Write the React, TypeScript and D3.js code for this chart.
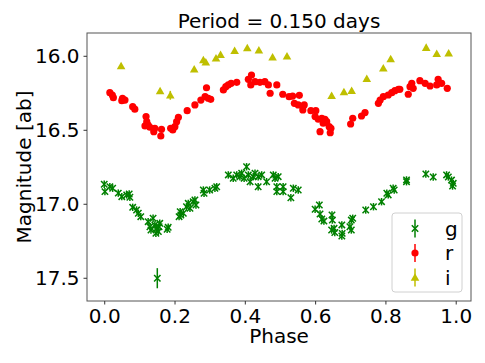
import React, { useEffect, useRef } from "react";
import * as d3 from "d3";

// phase, magnitude, error
const gPhase = [0.0, 0.002, 0.016, 0.024, 0.04, 0.05, 0.064, 0.071, 0.073, 0.081, 0.092, 0.097, 0.104, 0.125, 0.13, 0.133, 0.139, 0.144, 0.149, 0.154, 0.158, 0.147, 0.156, 0.182, 0.179, 0.151, 0.213, 0.216, 0.218, 0.225, 0.234, 0.239, 0.244, 0.253, 0.258, 0.261, 0.282, 0.284, 0.3, 0.315, 0.32, 0.353, 0.367, 0.377, 0.386, 0.391, 0.398, 0.405, 0.41, 0.415, 0.424, 0.429, 0.438, 0.438, 0.448, 0.462, 0.481, 0.486, 0.491, 0.495, 0.491, 0.509, 0.509, 0.538, 0.552, 0.531, 0.6, 0.612, 0.614, 0.619, 0.625, 0.648, 0.649, 0.647, 0.654, 0.656, 0.676, 0.677, 0.676, 0.699, 0.703, 0.707, 0.703, 0.744, 0.766, 0.789, 0.804, 0.808, 0.822, 0.825, 0.86, 0.86, 0.915, 0.936, 0.974, 0.979, 0.988, 0.993, 0.991];
const gMag = [16.868, 16.918, 16.884, 16.895, 16.928, 16.952, 16.94, 16.934, 16.956, 17.024, 17.042, 17.064, 17.087, 17.121, 17.155, 17.177, 17.098, 17.143, 17.166, 17.188, 17.132, 17.199, 17.155, 17.159, 17.172, 17.503, 17.087, 17.053, 17.076, 17.064, 17.02, 16.997, 17.03, 16.986, 16.974, 17.008, 16.907, 16.929, 16.907, 16.895, 16.885, 16.805, 16.828, 16.805, 16.817, 16.794, 16.828, 16.75, 16.805, 16.851, 16.817, 16.794, 16.817, 16.885, 16.805, 16.851, 16.805, 16.828, 16.885, 16.817, 16.918, 16.885, 16.918, 16.895, 16.907, 16.959, 17.037, 17.008, 17.069, 17.103, 17.117, 17.076, 17.11, 17.177, 17.166, 17.194, 17.143, 17.2, 17.218, 17.155, 17.11, 17.098, 17.177, 17.042, 17.02, 16.986, 16.929, 16.94, 16.895, 16.907, 16.851, 16.839, 16.799, 16.819, 16.805, 16.819, 16.84, 16.862, 16.88];
const gErr = gMag.map((m) => (m > 17.4 ? 0.068 : 0.025));

const rPhase = [0.016, 0.023, 0.026, 0.052, 0.059, 0.05, 0.081, 0.087, 0.119, 0.121, 0.125, 0.116, 0.13, 0.144, 0.141, 0.163, 0.161, 0.189, 0.195, 0.201, 0.206, 0.211, 0.236, 0.258, 0.275, 0.287, 0.291, 0.296, 0.303, 0.339, 0.346, 0.353, 0.361, 0.377, 0.41, 0.419, 0.417, 0.429, 0.443, 0.457, 0.467, 0.472, 0.491, 0.508, 0.526, 0.536, 0.541, 0.555, 0.552, 0.565, 0.569, 0.588, 0.602, 0.6, 0.609, 0.619, 0.628, 0.633, 0.623, 0.64, 0.645, 0.614, 0.643, 0.701, 0.707, 0.732, 0.742, 0.78, 0.785, 0.794, 0.808, 0.818, 0.827, 0.837, 0.841, 0.865, 0.87, 0.875, 0.879, 0.898, 0.913, 0.927, 0.946, 0.95, 0.96, 0.976];
const rMag = [16.249, 16.265, 16.283, 16.287, 16.299, 16.303, 16.344, 16.361, 16.411, 16.445, 16.468, 16.474, 16.483, 16.49, 16.513, 16.497, 16.542, 16.49, 16.501, 16.479, 16.445, 16.416, 16.371, 16.332, 16.299, 16.276, 16.216, 16.287, 16.294, 16.231, 16.209, 16.197, 16.186, 16.179, 16.159, 16.13, 16.197, 16.175, 16.179, 16.175, 16.197, 16.253, 16.197, 16.26, 16.276, 16.272, 16.321, 16.267, 16.332, 16.366, 16.332, 16.371, 16.371, 16.411, 16.429, 16.422, 16.429, 16.445, 16.456, 16.479, 16.49, 16.513, 16.52, 16.461, 16.422, 16.407, 16.384, 16.321, 16.299, 16.276, 16.265, 16.249, 16.236, 16.226, 16.226, 16.26, 16.209, 16.186, 16.22, 16.168, 16.186, 16.204, 16.197, 16.159, 16.186, 16.22];
const rErr = rMag.map(() => 0.012);

const iPhase = [0.048, 0.159, 0.188, 0.256, 0.282, 0.289, 0.318, 0.331, 0.371, 0.407, 0.44, 0.479, 0.52, 0.647, 0.682, 0.704, 0.747, 0.794, 0.815, 0.916, 0.946, 0.98];
const iMag = [16.069, 16.238, 16.267, 16.091, 16.028, 16.044, 16.017, 15.993, 15.966, 15.947, 15.963, 16.01, 16.003, 16.27, 16.245, 16.236, 16.155, 16.084, 16.022, 15.945, 15.986, 15.983];
const iErr = [0.012, 0.015, 0.03, 0.015, 0.012, 0.012, 0.012, 0.012, 0.012, 0.012, 0.012, 0.012, 0.012, 0.015, 0.015, 0.015, 0.012, 0.012, 0.012, 0.012, 0.012, 0.012];

const xTicks = [0.0, 0.2, 0.4, 0.6, 0.8, 1.0];
const yTicks = [16.0, 16.5, 17.0, 17.5];
const bands = ["g", "r", "i"];

const App = () => {
	const ref = useRef(null);

	useEffect(() => {
		const width = 485;
		const height = 363;
		const margin = { top: 33, right: 14, bottom: 62, left: 87 };
		const font = "DejaVu Sans";
		const fs = 20;

		d3.select(ref.current).selectAll("*").remove();
		const svg = d3
			.select(ref.current)
			.append("svg")
			.attr("width", width)
			.attr("height", height)
			.style("position", "absolute")
			.style("left", 0)
			.style("top", 0)
			.style("font-family", font);

		const x = d3.scaleLinear().domain([-0.049, 1.0435]).range([margin.left, width - margin.right]);
		const y = d3.scaleLinear().domain([15.846, 17.657]).range([margin.top, height - margin.bottom]);

		const colors = { g: "#008000", r: "#ff0000", i: "#bfbf00" };

		const drawMarker = (g, band, cx, cy) => {
			if (band === "g") {
				const s = 3.2;
				g.append("path")
					.attr("d", `M${cx - s},${cy - s}L${cx + s},${cy + s}M${cx - s},${cy + s}L${cx + s},${cy - s}`)
					.attr("stroke", colors.g)
					.attr("stroke-width", 1.5);
			} else if (band === "r") {
				g.append("circle").attr("cx", cx).attr("cy", cy).attr("r", 3.6).attr("fill", colors.r);
			} else {
				const s = 4.3;
				g.append("path")
					.attr("d", `M${cx},${cy - s}L${cx + s},${cy + s * 0.75}L${cx - s},${cy + s * 0.75}Z`)
					.attr("fill", colors.i);
			}
		};

		const series = [
			{ band: "g", ph: gPhase, mag: gMag, err: gErr },
			{ band: "r", ph: rPhase, mag: rMag, err: rErr },
			{ band: "i", ph: iPhase, mag: iMag, err: iErr },
		];

		const plot = svg.append("g");
		series.forEach((s) => {
			const g = plot.append("g");
			s.ph.forEach((p, k) => {
				g.append("line")
					.attr("x1", x(p))
					.attr("x2", x(p))
					.attr("y1", y(s.mag[k] - s.err[k]))
					.attr("y2", y(s.mag[k] + s.err[k]))
					.attr("stroke", colors[s.band])
					.attr("stroke-width", 1.5);
				drawMarker(g, s.band, x(p), y(s.mag[k]));
			});
		});

		// frame
		svg.append("rect")
			.attr("x", margin.left)
			.attr("y", margin.top)
			.attr("width", width - margin.left - margin.right)
			.attr("height", height - margin.top - margin.bottom)
			.attr("fill", "none")
			.attr("stroke", "#555")
			.attr("stroke-width", 1);

		const xAxis = svg
			.append("g")
			.attr("transform", `translate(0,${height - margin.bottom})`)
			.call(d3.axisBottom(x).tickValues(xTicks).tickFormat(d3.format(".1f")).tickSize(3.5).tickPadding(4));
		const yAxis = svg
			.append("g")
			.attr("transform", `translate(${margin.left},0)`)
			.call(d3.axisLeft(y).tickValues(yTicks).tickFormat(d3.format(".1f")).tickSize(3.5).tickPadding(4));
		[xAxis, yAxis].forEach((a) => {
			a.select(".domain").remove();
			a.selectAll("text").attr("font-size", fs).attr("font-family", font).attr("fill", "#000");
			a.selectAll("line").attr("stroke", "#333");
		});

		svg.append("text")
			.attr("x", (margin.left + width - margin.right) / 2)
			.attr("y", 28)
			.attr("text-anchor", "middle")
			.attr("font-size", fs)
			.text("Period = 0.150 days");

		svg.append("text")
			.attr("x", (margin.left + width - margin.right) / 2)
			.attr("y", 343)
			.attr("text-anchor", "middle")
			.attr("font-size", fs)
			.text("Phase");

		svg.append("text")
			.attr("transform", `translate(31,${(margin.top + height - margin.bottom) / 2}) rotate(-90)`)
			.attr("text-anchor", "middle")
			.attr("font-size", fs)
			.text("Magnitude [ab]");

		// legend
		const lg = svg.append("g");
		lg.append("rect")
			.attr("x", 392)
			.attr("y", 213)
			.attr("width", 70)
			.attr("height", 79)
			.attr("rx", 3)
			.attr("fill", "#fff")
			.attr("fill-opacity", 0.8)
			.attr("stroke", "#d0d0d0");
		bands.forEach((b, k) => {
			const cy = 228.5 + k * 24.5;
			lg.append("line")
				.attr("x1", 415)
				.attr("x2", 415)
				.attr("y1", cy - 9)
				.attr("y2", cy + 9)
				.attr("stroke", colors[b])
				.attr("stroke-width", 1.5);
			drawMarker(lg, b, 415, cy);
			lg.append("text")
				.attr("x", 445)
				.attr("y", cy + 7)
				.attr("font-size", fs)
				.text(b);
		});
	}, []);

	return <div ref={ref}></div>;
};

export default App;
